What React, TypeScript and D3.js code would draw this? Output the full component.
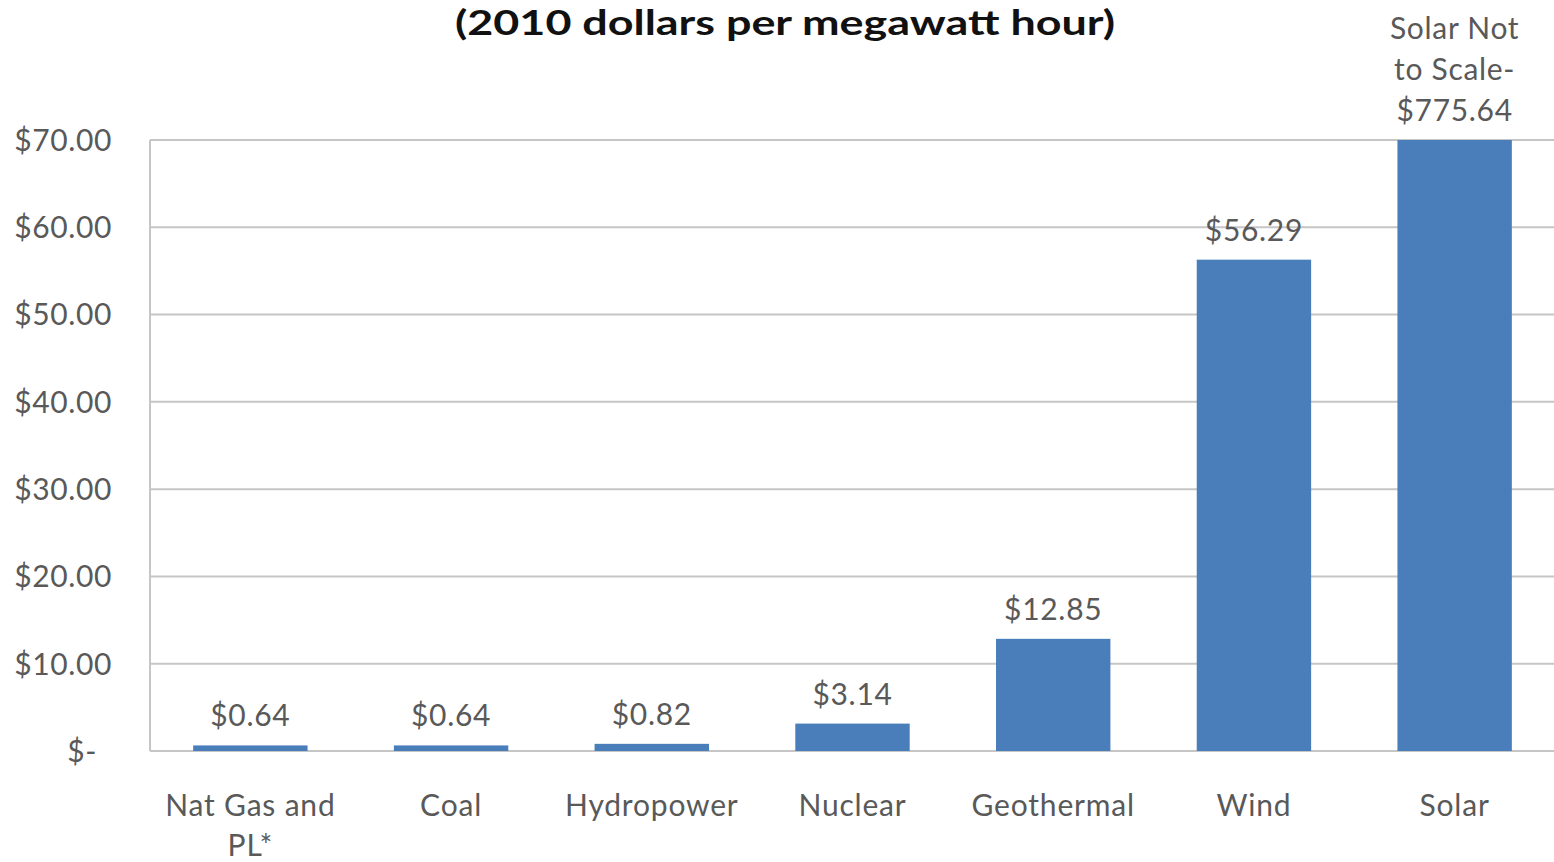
import React from "react";
import * as d3 from "d3";

const categories: string[][] = [["Nat Gas and", "PL*"], ["Coal"], ["Hydropower"], ["Nuclear"], ["Geothermal"], ["Wind"], ["Solar"]];
const values: number[] = [0.64, 0.64, 0.82, 3.14, 12.85, 56.29, 775.64];
const valueLabels: string[][] = [["$0.64"], ["$0.64"], ["$0.82"], ["$3.14"], ["$12.85"], ["$56.29"], ["Solar Not", "to Scale-", "$775.64"]];
const yTicks: number[] = [0, 10, 20, 30, 40, 50, 60, 70];
const yTickLabels: string[] = ["$-", "$10.00", "$20.00", "$30.00", "$40.00", "$50.00", "$60.00", "$70.00"];
const title = "(2010 dollars per megawatt hour)";

const W = 1554;
const H = 862;
const FONT = "Lato, 'Open Sans', sans-serif";
const TEXT = "#595959";

export default function App() {
  const x = d3.scaleBand<number>().domain(d3.range(categories.length)).range([150, 1555]).paddingInner(0.43).paddingOuter(0.215);
  const y = d3.scaleLinear().domain([0, 70]).range([751, 140]).clamp(true);

  return (
    <svg width={W} height={H} style={{ position: "absolute", left: 0, top: 0, background: "#fff" }}>
      <text x={785} y={35} textAnchor="middle" fontFamily={FONT} fontWeight="bold" fontSize={35} fill="#111" textLength={660} lengthAdjust="spacingAndGlyphs">{title}</text>
      {yTicks.map((t, i) => (
        <g key={t}>
          <line x1={150} x2={W} y1={y(t)} y2={y(t)} stroke="#c6c6c6" strokeWidth={2} />
          <text x={t === 0 ? 97 : 112} y={y(t)} dy="0.36em" textAnchor="end" fontFamily={FONT} fontSize={30} letterSpacing={0.6} fill={TEXT}>{yTickLabels[i]}</text>
        </g>
      ))}
      <line x1={150} x2={150} y1={y(70)} y2={y(0)} stroke="#c6c6c6" strokeWidth={2} />
      {values.map((v, i) => (
        <rect key={i} x={x(i)} width={x.bandwidth()} y={y(v)} height={y(0) - y(v)} fill="#4a7ebb" />
      ))}
      {values.map((v, i) => {
        const lines = valueLabels[i];
        const cx = (x(i) as number) + x.bandwidth() / 2;
        return (
          <text key={i} textAnchor="middle" fontFamily={FONT} fontSize={30} letterSpacing={0.7} fill={TEXT}>
            {lines.map((l, j) => (
              <tspan key={j} x={cx} y={y(v) - 19 - (lines.length - 1 - j) * 41}>{l}</tspan>
            ))}
          </text>
        );
      })}
      {categories.map((c, i) => {
        const cx = (x(i) as number) + x.bandwidth() / 2;
        return (
          <text key={i} textAnchor="middle" fontFamily={FONT} fontSize={30} letterSpacing={0.8} fill={TEXT}>
            {c.map((l, j) => (
              <tspan key={j} x={cx} y={816 + j * 40}>{l}</tspan>
            ))}
          </text>
        );
      })}
    </svg>
  );
}
